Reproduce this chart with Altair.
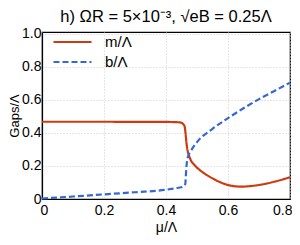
import altair as alt
import pandas as pd

# m/Λ curve
mu_m = [0.0, 0.2, 0.4, 0.44, 0.45, 0.455, 0.46, 0.463, 0.466, 0.47, 0.475, 0.48, 0.49,
        0.5, 0.52, 0.55, 0.6, 0.64, 0.7, 0.75, 0.8]
m_vals = [0.468, 0.468, 0.467, 0.465, 0.462, 0.455, 0.44, 0.40, 0.34, 0.29, 0.26, 0.235,
          0.21, 0.19, 0.16, 0.125, 0.085, 0.075, 0.085, 0.105, 0.132]

# b/Λ curve
mu_b = [0.0, 0.1, 0.2, 0.3, 0.4, 0.44, 0.455, 0.462, 0.466, 0.47, 0.48, 0.5, 0.55,
        0.6, 0.65, 0.7, 0.75, 0.8]
b_vals = [0.003, 0.015, 0.028, 0.041, 0.056, 0.068, 0.075, 0.09, 0.2, 0.25, 0.29, 0.345,
          0.425, 0.49, 0.55, 0.605, 0.655, 0.705]

series = ["m/Λ", "b/Λ"]
colors = ["#cc3a0e", "#3567d6"]
dashes = [[1, 0], [6, 3]]

df = pd.concat([
    pd.DataFrame({"mu": mu_m, "val": m_vals, "s": series[0], "o": 0}),
    pd.DataFrame({"mu": mu_b, "val": b_vals, "s": series[1], "o": 1}),
])

FONT = "Liberation Sans"

chart = alt.Chart(df).mark_line(strokeWidth=2.2, interpolate="monotone").encode(
    x=alt.X("mu:Q", scale=alt.Scale(domain=[0, 0.8], nice=False),
            axis=alt.Axis(values=[0, 0.2, 0.4, 0.6, 0.8], title="μ/Λ",
                          labelFlush=True, labelFlushOffset=2,
                          labelExpr="datum.value == 0 ? '0' : format(datum.value, '.1f')")),
    y=alt.Y("val:Q", scale=alt.Scale(domain=[0, 1.012], nice=False),
            axis=alt.Axis(values=[0, 0.2, 0.4, 0.6, 0.8, 1.0], title="Gaps/Λ",
                          labelOverlap=False, labelFlush=False,
                          labelExpr="datum.value == 0 ? '0' : format(datum.value, '.1f')")),
    color=alt.Color("s:N", scale=alt.Scale(domain=series, range=colors),
                    legend=alt.Legend(title=None, orient="none", legendX=10, legendY=0,
                                      symbolType="stroke", symbolSize=1444,
                                      symbolStrokeWidth=2.2, labelFontSize=15,
                                      labelFont=FONT, rowPadding=0, clipHeight=20,
                                      labelOffset=12)),
    strokeDash=alt.StrokeDash("s:N", scale=alt.Scale(domain=series, range=dashes),
                              legend=None),
    detail="s:N",
    order="o:Q",
).properties(
    width=248, height=167,
    padding={"left": 34, "top": 24, "right": 2, "bottom": 38},
    autosize=alt.AutoSizeParams(type="none"),
    title=alt.TitleParams("h) ΩR = 5×10⁻³,  √eB  = 0.25Λ", fontSize=16.5, font=FONT,
                          fontWeight="normal", color="black", anchor="middle", offset=1),
).configure_view(
    stroke="black", strokeWidth=1.2
).configure_axis(
    domainColor="black", domainWidth=1.2, tickColor="black", tickSize=0,
    labelFont=FONT, labelFontSize=14, labelColor="black",
    titleFont=FONT, titleFontSize=14, titleColor="black", titleFontWeight="normal",
    grid=True, gridColor="#cccccc", gridDash=[1, 2], gridWidth=1,
).configure_axisY(
    titlePadding=0, labelPadding=1, titleFontSize=13
).configure_axisX(
    titlePadding=3, labelPadding=4
)

chart.save("out.html", embed_options={"renderer": "svg", "actions": False})
